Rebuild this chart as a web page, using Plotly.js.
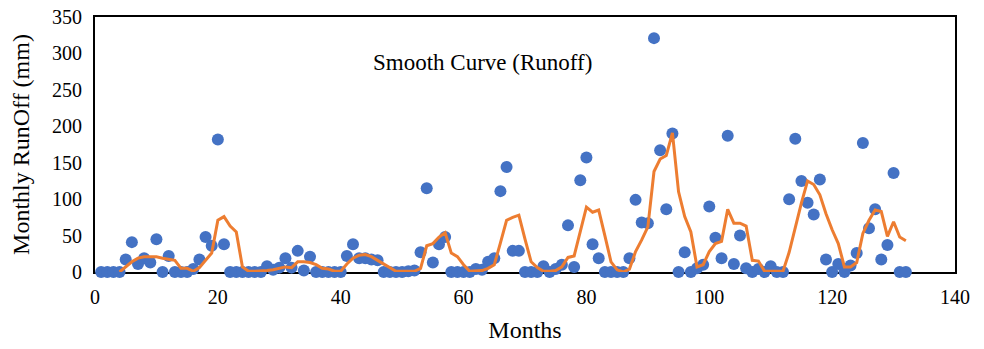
<!DOCTYPE html>
<html>
<head>
<meta charset="utf-8">
<script src="https://cdn.plot.ly/plotly-3.0.1.min.js"></script>
<style>html,body{margin:0;padding:0;background:#fff;}#chart{width:984px;height:349px;}</style>
</head>
<body>
<div id="chart"></div>
<script>
// Monthly runoff observations (months 1..132)
const runoffMonths = Array.from({length: 132}, (_, i) => i + 1);
const runoffValues = [
  0, 0, 0, 0, 17, 41, 11, 19, 13, 45,
  0, 22, 0, 0, 0, 4, 17, 48, 36, 182,
  38, 0, 0, 0, 0, 0, 0, 8, 3, 6,
  19, 6, 29, 2, 21, 0, 0, 0, 0, 0,
  22, 38, 19, 19, 17, 16, 0, 0, 0, 0,
  1, 2, 27, 115, 13, 38, 48, 0, 0, 0,
  0, 4, 3, 14, 19, 111, 144, 29, 29, 0,
  0, 0, 8, 0, 4, 10, 64, 7, 126, 157,
  38, 19, 0, 0, 0, 0, 19, 99, 68, 67,
  321, 167, 86, 190, 0, 27, 0, 5, 10, 90,
  47, 19, 187, 11, 50, 5, 0, 4, 0, 8,
  0, 0, 100, 183, 125, 95, 79, 127, 17, 0,
  11, 0, 9, 26, 177, 60, 86, 17, 37, 136,
  0, 0
];
// Smooth curve (months 4..132)
const smoothMonths = Array.from({length: 129}, (_, i) => i + 4);
const smoothValues = [
  0, 7, 14, 19, 21, 21, 21, 19, 18, 16,
  5, 5, 1, 6, 16, 26, 71, 76, 63, 55,
  7, 1, 1, 1, 2, 3, 5, 7, 6, 14,
  14, 13, 10, 5, 4, 1, 1, 11, 19, 23,
  24, 21, 16, 11, 5, 1, 1, 1, 1, 5,
  36, 39, 48, 54, 26, 21, 10, 1, 1, 2,
  5, 10, 40, 71, 75, 78, 45, 14, 6, 1,
  1, 2, 7, 20, 22, 55, 89, 82, 85, 50,
  14, 3, 0, 4, 28, 44, 62, 138, 155, 160,
  191, 110, 76, 55, 7, 10, 28, 39, 42, 86,
  67, 67, 63, 16, 15, 1, 1, 1, 1, 27,
  62, 95, 125, 120, 106, 80, 58, 39, 7, 7,
  13, 53, 71, 85, 83, 49, 69, 48, 43
];
const xTicks = [0, 20, 40, 60, 80, 100, 120, 140];
const yTicks = [0, 50, 100, 150, 200, 250, 300, 350];

const font = "Liberation Serif, Times New Roman, serif";

const traces = [
  {
    type: 'scatter', mode: 'markers', x: runoffMonths, y: runoffValues,
    marker: {color: '#4472C4', size: 12}, cliponaxis: false, name: 'Runoff', showlegend: false
  },
  {
    type: 'scatter', mode: 'lines', x: smoothMonths, y: smoothValues,
    line: {color: '#ED7D31', width: 3}, cliponaxis: false, name: 'Smooth Curve', showlegend: false
  }
];

const layout = {
  width: 984, height: 349,
  margin: {l: 95, r: 29, t: 17, b: 77},
  paper_bgcolor: '#fff', plot_bgcolor: '#fff',
  font: {family: font, color: '#000', size: 20},
  xaxis: {
    range: [0, 140], tickvals: xTicks, ticktext: xTicks.map(String),
    showgrid: false, zeroline: false, showline: true, linecolor: '#000', linewidth: 2,
    mirror: true, ticks: '', ticklen: 0, layer: 'below traces', ticklabelstandoff: 6,
    tickfont: {family: font, size: 20, color: '#000'},
    title: {text: 'Months', font: {family: font, size: 24, color: '#000'}, standoff: 14}
  },
  yaxis: {
    range: [0, 350], tickvals: yTicks, ticktext: yTicks.map(String),
    showgrid: false, zeroline: false, showline: true, linecolor: '#000', linewidth: 2,
    mirror: true, ticks: '', ticklen: 0, layer: 'below traces', ticklabelstandoff: 7,
    tickfont: {family: font, size: 20, color: '#000'},
    title: {text: 'Monthly RunOff (mm)', font: {family: font, size: 24, color: '#000'}, standoff: 16}
  },
  annotations: [{
    text: 'Smooth Curve (Runoff)', x: 63, y: 287, xref: 'x', yref: 'y',
    showarrow: false, font: {family: font, size: 23, color: '#000'}
  }]
};

Plotly.newPlot('chart', traces, layout, {displayModeBar: false, staticPlot: true});
</script>
</body>
</html>
